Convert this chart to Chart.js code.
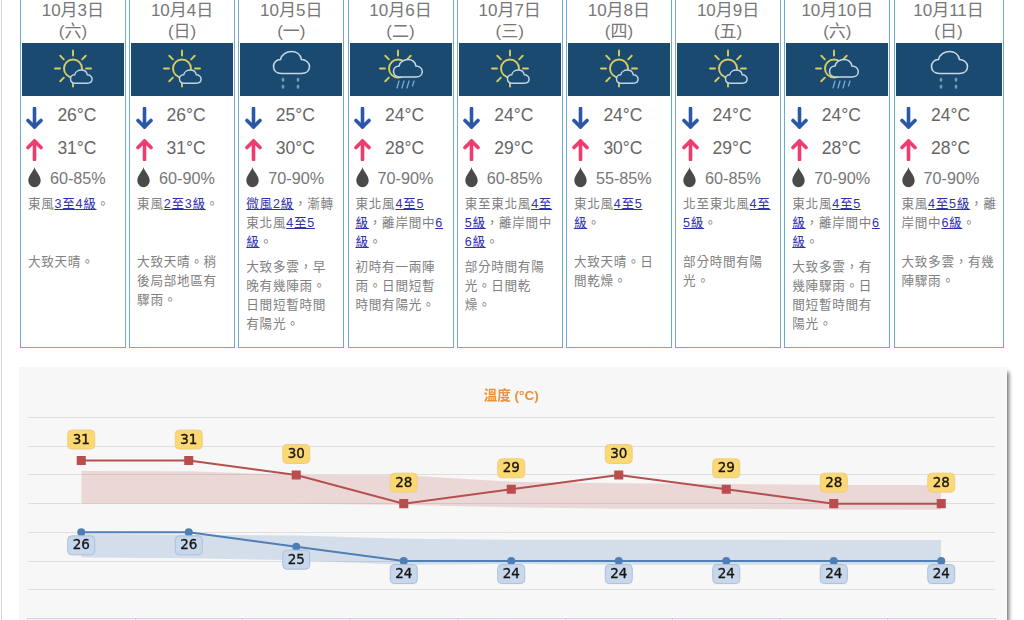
<!DOCTYPE html>
<html lang="zh-Hant">
<head>
<meta charset="utf-8">
<title>九天天氣預報</title>
<script src="https://cdn.jsdelivr.net/npm/chart.js@4"></script>
<style>
html, body { margin: 0; padding: 0; background: #fff; }
body { position: relative; width: 1024px; height: 620px; overflow: hidden; font-family: "Liberation Sans", "Noto Sans CJK TC", sans-serif; }
.page-line { position: absolute; left: 1px; top: 0; width: 1px; height: 620px; background: #d4d4d4; }
.card { position: absolute; top: -10px; width: 104px; height: 355.5px; border: 1px solid #70abc9; box-sizing: content-box; }
.card.wide { width: 108px; }
.date { position: absolute; left: 0; right: 0; top: 8.5px; text-align: center; font-size: 17px; line-height: 21px; color: #777; }
.sky { position: absolute; left: 1px; right: 1px; top: 51.5px; height: 53px; background: #1b4a70; }
.sky svg { display: block; margin: 0 auto; }
.arrow { position: absolute; left: 5.5px; }
.temp { position: absolute; left: 36.5px; font-size: 17.5px; line-height: 22px; color: #666; }
.drop { position: absolute; left: 7px; top: 175.5px; }
.rh { position: absolute; left: 29px; top: 177px; font-size: 16.2px; line-height: 20px; color: #777; white-space: nowrap; }
.text { position: absolute; left: 7px; font-size: 12.6px; line-height: 19px; letter-spacing: .7px; color: #808080; white-space: pre; }
.text a { color: #3030b0; text-decoration: underline; }
#panel { position: absolute; left: 19px; top: 367px; width: 988px; height: 300px; background: #f7f7f7; box-shadow: 4px 3px 4px -2px rgba(0, 0, 0, .55); }
#chart { display: block; }
</style>
</head>
<body>
<div class="page-line"></div>
<div id="cards"></div>
<div id="panel"><canvas id="chart" width="988" height="262"></canvas></div>
<script>
// forecast values
const dates = ['10月3日', '10月4日', '10月5日', '10月6日', '10月7日', '10月8日', '10月9日', '10月10日', '10月11日'];
const weekdays = ['六', '日', '一', '二', '三', '四', '五', '六', '日'];
const lowTemps = [26, 26, 25, 24, 24, 24, 24, 24, 24];
const highTemps = [31, 31, 30, 28, 29, 30, 29, 28, 28];
const humidity = ['60-85%', '60-90%', '70-90%', '70-90%', '60-85%', '55-85%', '60-85%', '70-90%', '70-90%'];
const icons = ['sun', 'sun', 'drizzle', 'rain', 'sun', 'sun', 'sun', 'rain', 'drizzle'];
// [ ] = link, \n = line break
const winds = [
    '東風[3至4級]。',
    '東風[2至3級]。',
    '[微風2級]，漸轉\n東北風[4至5]\n[級]。',
    '東北風[4至5]\n[級]，離岸間中[6]\n[級]。',
    '東至東北風[4至]\n[5級]，離岸間中\n[6級]。',
    '東北風[4至5]\n[級]。',
    '北至東北風[4至]\n[5級]。',
    '東北風[4至5]\n[級]，離岸間中[6]\n[級]。',
    '東風[4至5級]，離\n岸間中[6級]。'
];
const details = [
    '大致天晴。',
    '大致天晴。稍\n後局部地區有\n驟雨。',
    '大致多雲，早\n晚有幾陣雨。\n日間短暫時間\n有陽光。',
    '初時有一兩陣\n雨。日間短暫\n時間有陽光。',
    '部分時間有陽\n光。日間乾\n燥。',
    '大致天晴。日\n間乾燥。',
    '部分時間有陽\n光。',
    '大致多雲，有\n幾陣驟雨。日\n間短暫時間有\n陽光。',
    '大致多雲，有幾\n陣驟雨。'
];
// shaded ranges behind the two lines
const highBandTop = [30.28, 30.25, 30, 29.97, 29.53, 29.42, 29.37, 29.3, 29.3];
const highBandBottom = [28, 28, 28, 27.9, 27.75, 27.65, 27.65, 27.6, 27.57];
const lowBandTop = [25.9, 25.83, 25.78, 25.55, 25.48, 25.48, 25.48, 25.46, 25.46];
const lowBandBottom = [24.25, 24.2, 24.05, 23.74, 23.8, 23.74, 23.74, 23.74, 23.74];
const axisTicks = [20, 22, 24, 26, 28, 30, 32, 34];

const cloudPath = 'M8 22C3 22 0 19 0 15C0 11 3 8 7 8C8 3 13 0 18 0C23 0 27 3 28 8C32 8 36 11 36 15C36 19 33 22 28 22Z';

function sunRays(cx, cy, angles) {
    return angles.map(a => {
        const r = a * Math.PI / 180;
        return `<line x1="${cx + 13 * Math.cos(r)}" y1="${cy + 13 * Math.sin(r)}" x2="${cx + 18 * Math.cos(r)}" y2="${cy + 18 * Math.sin(r)}"/>`;
    }).join('');
}

function skyIcon(kind) {
    let s = '<svg width="102" height="53" viewBox="0 0 102 53" fill="none" stroke-linecap="round">';
    if (kind === 'sun') {
        s += `<g stroke="#d6cd5e" stroke-width="1.9"><circle cx="51" cy="25.5" r="9"/>${sunRays(51, 25.5, [0, 45, 90, 135, 180, 225, 270, 315])}</g>`;
        s += `<path d="${cloudPath}" transform="translate(48.5 27) scale(.6)" fill="#1b4a70" stroke="#bfd4e6" stroke-width="2.4"/>`;
    }
    if (kind === 'rain') {
        s += `<g stroke="#d6cd5e" stroke-width="1.9"><circle cx="48" cy="25.5" r="9"/>${sunRays(48, 25.5, [135, 180, 225, 270, 315])}</g>`;
        s += `<path d="${cloudPath}" transform="translate(43.5 16.5) scale(.8)" fill="#1b4a70" stroke="#c5d8e8" stroke-width="1.9"/>`;
        s += '<g stroke="#77aace" stroke-width="1.3"><line x1="49" y1="38" x2="47" y2="45"/><line x1="54" y1="38" x2="52" y2="45"/><line x1="59" y1="38" x2="57" y2="45"/><line x1="64" y1="38" x2="62.5" y2="43"/></g>';
    }
    if (kind === 'drizzle') {
        s += `<path d="${cloudPath}" transform="translate(33.5 8.5)" stroke="#c5d8e8" stroke-width="1.6"/>`;
        s += '<g stroke="#6f9cbc" stroke-width="2.6"><line x1="43" y1="36" x2="43" y2="37.5"/><line x1="43" y1="43" x2="43" y2="44.5"/><line x1="58" y1="36" x2="58" y2="37.5"/><line x1="58" y1="43" x2="58" y2="44.5"/></g>';
    }
    return s + '</svg>';
}

function arrowIcon(up, top) {
    const color = up ? '#ee3b70' : '#2b57a8';
    const lines = up
        ? '<line x1="8.5" y1="2" x2="8.5" y2="20.5"/><polyline points="2,8.5 8.5,2 15,8.5"/>'
        : '<line x1="8.5" y1="1.5" x2="8.5" y2="20"/><polyline points="2,13.5 8.5,20 15,13.5"/>';
    return `<svg class="arrow" style="top:${top}px" width="17" height="22" fill="none" stroke="${color}" stroke-width="3.6" stroke-linecap="round" stroke-linejoin="round">${lines}</svg>`;
}

const dropIcon = '<svg class="drop" width="13" height="21"><path d="M6.5 0C6 4 .3 8 .3 13.8A6.2 6.4 0 0 0 12.7 13.8C12.7 8 7 4 6.5 0Z" fill="#4a4a4a"/></svg>';

function windHtml(text) {
    return text.replace(/\[(.*?)\]/g, '<a>$1</a>');
}

// day cards
const cardsBox = document.getElementById('cards');
dates.forEach((date, i) => {
    const card = document.createElement('div');
    card.className = i === dates.length - 1 ? 'card wide' : 'card';
    card.style.left = (19.9 + i * 109.2) + 'px';
    const windLines = winds[i].split('\n').length;
    const detailTop = windLines >= 3 ? 267 : 262;
    card.innerHTML = `
        <div class="date">${date}<br>(${weekdays[i]})</div>
        <div class="sky">${skyIcon(icons[i])}</div>
        ${arrowIcon(false, 115.5)}
        <div class="temp" style="top:113.2px">${lowTemps[i]}°C</div>
        ${arrowIcon(true, 148)}
        <div class="temp" style="top:146.2px">${highTemps[i]}°C</div>
        ${dropIcon}
        <div class="rh">${humidity[i]}</div>
        <div class="text" style="top:203.5px">${windHtml(winds[i])}</div>
        <div class="text" style="top:${detailTop}px">${details[i]}</div>`;
    cardsBox.appendChild(card);
});

// value boxes above the highs and below the lows
const valueBoxes = {
    id: 'valueBoxes',
    afterDatasetsDraw(chart) {
        const ctx = chart.ctx;
        const groups = [
            { index: 0, offset: -21, fill: '#fcd873', stroke: '#e8cf8a' },
            { index: 1, offset: 13, fill: '#c8d8ec', stroke: '#aebfd6' }
        ];
        ctx.save();
        ctx.font = '13.5px "DejaVu Sans"';
        ctx.textAlign = 'center';
        ctx.textBaseline = 'middle';
        groups.forEach(g => {
            chart.getDatasetMeta(g.index).data.forEach((point, i) => {
                const cy = point.y + g.offset;
                ctx.beginPath();
                ctx.roundRect(point.x - 13.5, cy - 9.5, 27, 19, 4);
                ctx.fillStyle = g.fill;
                ctx.fill();
                ctx.strokeStyle = g.stroke;
                ctx.lineWidth = 1;
                ctx.stroke();
                const value = chart.data.datasets[g.index].data[i];
                ctx.fillStyle = '#151515';
                ctx.strokeStyle = '#151515';
                ctx.lineWidth = .35;
                ctx.fillText(value, point.x, cy + .5);
                ctx.strokeText(value, point.x, cy + .5);
            });
        });
        ctx.restore();
    }
};

const bandLine = { borderWidth: 0, pointRadius: 0, pointHitRadius: 0, tension: 0 };

new Chart(document.getElementById('chart'), {
    type: 'line',
    data: {
        labels: dates,
        datasets: [
            { label: '最高', data: highTemps, borderColor: '#b5504f', backgroundColor: '#bf4a4c', borderWidth: 2, pointStyle: 'rect', pointRadius: 5, fill: false, tension: 0 },
            { label: '最低', data: lowTemps, borderColor: '#4f7fb5', backgroundColor: '#4a7fb8', borderWidth: 2, pointStyle: 'circle', pointRadius: 3, fill: false, tension: 0 },
            { data: highBandTop, fill: '+1', backgroundColor: 'rgba(190, 70, 70, .18)', ...bandLine },
            { data: highBandBottom, fill: false, ...bandLine },
            { data: lowBandTop, fill: '+1', backgroundColor: 'rgba(50, 110, 180, .18)', ...bandLine },
            { data: lowBandBottom, fill: false, ...bandLine }
        ]
    },
    plugins: [valueBoxes],
    options: {
        responsive: false,
        animation: false,
        layout: { padding: { left: 8.5, right: 12, top: 0, bottom: 0.5 } },
        plugins: {
            legend: { display: false },
            tooltip: { enabled: false },
            title: {
                display: true,
                text: '溫度 (°C)',
                color: '#e8923c',
                font: { family: '"Liberation Sans", "Noto Sans CJK TC"', size: 13.5, weight: 'bold' },
                padding: { top: 20.9, bottom: 13.4 }
            }
        },
        scales: {
            x: {
                offset: true,
                ticks: { display: false },
                border: { color: '#ccd6eb' },
                grid: { offset: true, drawOnChartArea: false, tickColor: '#ccd6eb', tickLength: 10 }
            },
            y: {
                min: 20,
                max: 34,
                afterBuildTicks(axis) { axis.ticks = axisTicks.map(v => ({ value: v })); },
                ticks: { display: false },
                border: { display: false },
                grid: { color: '#dedede', drawTicks: false }
            }
        }
    }
});
</script>
</body>
</html>
